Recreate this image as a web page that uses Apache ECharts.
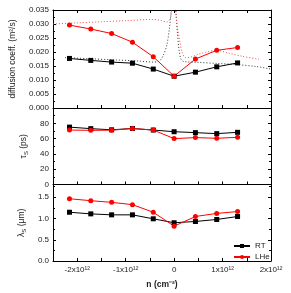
<!DOCTYPE html>
<html><head><meta charset="utf-8">
<script src="https://cdn.jsdelivr.net/npm/echarts@6/dist/echarts.min.js"></script>
<style>html,body{margin:0;padding:0;background:#fff}#c{width:291px;height:293px}</style>
</head><body><div id="c"></div>
<script>
// carrier density (units of 1e12 cm^-2)
const nPts = [-2.16, -1.72, -1.29, -0.86, -0.43, 0, 0.44, 0.88, 1.31];
// diffusion coefficient (m^2/s)
const dRT  = [0.0177, 0.0170, 0.0164, 0.0160, 0.0139, 0.01135, 0.0128, 0.0147, 0.0161];
const dLHe = [0.0296, 0.0282, 0.0266, 0.0235, 0.0183, 0.01135, 0.0175, 0.0206, 0.0216];
// spin lifetime (ps)
const tRT  = [75, 73, 71.5, 73.2, 71.2, 69, 67.8, 66.5, 68.2];
const tLHe = [71.2, 70.8, 71, 73.2, 71.2, 60, 61.3, 60.4, 61.7];
// spin diffusion length (um)
const lRT  = [1.147, 1.109, 1.086, 1.086, 0.993, 0.90, 0.93, 0.977, 1.047];
const lLHe = [1.465, 1.419, 1.38, 1.326, 1.147, 0.82, 1.047, 1.12, 1.163];
// dotted theory curves (n in 1e12 cm^-2, D in m^2/s)
const thRTn  = [-2.25, -1.75, -1.25, -0.75, -0.43, -0.3, -0.22, -0.15, -0.1, -0.06, -0.04, null, 0.02, 0.04, 0.07, 0.1, 0.14, 0.2, 0.5, 0.9, 1.3, 1.7, 2.0];
const thRTd  = [0.0180, 0.0176, 0.0172, 0.0168, 0.0164, 0.0168, 0.0190, 0.0225, 0.0280, 0.0345, 0.040, null, 0.040, 0.034, 0.0265, 0.021, 0.0175, 0.0166, 0.0163, 0.0159, 0.0155, 0.0148, 0.0139];
const thLHen = [-2.5, -2.0, -1.5, -1.0, -0.5, -0.3, -0.15, -0.08, -0.05, null, 0.02, 0.03, 0.06, 0.12, 0.165, 0.23, 0.35, 0.5, 0.7, 0.88, 1.1, 1.4, 1.75];
const thLHed = [0.0300, 0.0304, 0.0308, 0.0312, 0.0316, 0.0314, 0.0307, 0.0320, 0.036, null, 0.040, 0.035, 0.0296, 0.0236, 0.0200, 0.0180, 0.0182, 0.0192, 0.0201, 0.0206, 0.0197, 0.0185, 0.0174];

const E12 = 1e12;
const pairs = (xs, ys) => xs.map((x, i) => x === null ? [null, null] : [x * E12, ys[i]]);
const FONT = 'Liberation Sans, Arial, sans-serif';

const chart = echarts.init(document.getElementById('c'), null, {renderer: 'canvas'});

const axLine = {show: true, onZero: false, lineStyle: {color: '#000', width: 1}};
const tick = {show: true, inside: true, length: 3, lineStyle: {color: '#000'}};
const mtick = {show: true, splitNumber: 2, length: 2, lineStyle: {color: '#000'}};
const lbl = {fontFamily: FONT, fontSize: 8, color: '#222'};

function xAx(grid, opts) {
  return Object.assign({
    type: 'value', gridIndex: grid, min: -2.5 * E12, max: 2 * E12, interval: 0.5 * E12,
    axisLine: axLine, axisTick: tick, splitLine: {show: false},
    axisLabel: {show: false}
  }, opts);
}
function yAx(grid, min, max, interval, opts) {
  return Object.assign({
    type: 'value', gridIndex: grid, min: min, max: max, interval: interval,
    axisLine: axLine, axisTick: tick, minorTick: mtick, splitLine: {show: false}, minorSplitLine: {show: false},
    axisLabel: {show: false}
  }, opts);
}
const xFmt = v => {
  const k = Math.round(v / E12 * 2);
  if (k % 2 !== 0) return '';
  const m = k / 2;
  return m === 0 ? '0' : m + 'x10\u00b9\u00b2';
};

const nameStyle = {fontFamily: FONT, fontSize: 8.5, color: '#222'};

chart.setOption({
  animation: false,
  backgroundColor: '#fff',
  textStyle: {fontFamily: FONT},
  grid: [
    {left: 53, right: 20, top: 10, height: 98},
    {left: 53, right: 20, top: 108, height: 76.5},
    {left: 53, right: 20, top: 184.5, height: 76.5}
  ],
  xAxis: [
    xAx(0, {position: 'bottom'}),
    xAx(0, {position: 'top'}),
    xAx(1, {position: 'bottom'}),
    xAx(2, {position: 'bottom',
      axisLabel: Object.assign({show: true, interval: 0, margin: 5, formatter: xFmt, showMinLabel: false}, lbl),
      name: 'n (cm\u207b\u00b2)', nameLocation: 'middle', nameGap: 19,
      nameTextStyle: {fontFamily: FONT, fontSize: 8.5, fontWeight: 'bold', color: '#222'}})
  ],
  yAxis: [
    yAx(0, 0, 0.035, 0.005, {position: 'left',
      axisLabel: Object.assign({show: true, margin: 4, formatter: v => v.toFixed(3)}, lbl),
      name: 'diffusion coeff. (m\u00b2/s)', nameLocation: 'middle', nameGap: 36, nameTextStyle: nameStyle}),
    yAx(0, 0, 0.035, 0.005, {position: 'right'}),
    yAx(1, 0, 100, 20, {position: 'left',
      axisLabel: Object.assign({show: true, margin: 4, showMaxLabel: false}, lbl),
      name: '{a|\u03c4}{s|S}{a| (ps)}', nameLocation: 'middle', nameGap: 24,
      nameTextStyle: Object.assign({rich: {a: nameStyle, s: {fontFamily: FONT, fontSize: 6, color: '#222', padding: [4, 0, 0, 0]}}}, nameStyle)}),
    yAx(1, 0, 100, 20, {position: 'right'}),
    yAx(2, 0, 1.8, 0.5, {position: 'left',
      axisLabel: Object.assign({show: true, margin: 4, showMaxLabel: false, formatter: v => v.toFixed(1)}, lbl),
      name: '{a|\u03bb}{s|S}{a| (\u03bcm)}', nameLocation: 'middle', nameGap: 25,
      nameTextStyle: Object.assign({rich: {a: nameStyle, s: {fontFamily: FONT, fontSize: 6, color: '#222', padding: [4, 0, 0, 0]}}}, nameStyle)}),
    yAx(2, 0, 1.8, 0.5, {position: 'right'})
  ],
  legend: {
    data: ['RT', 'LHe'], orient: 'vertical', left: 228, top: 237,
    itemWidth: 16, itemHeight: 5, itemGap: 3,
    textStyle: {fontFamily: FONT, fontSize: 8, color: '#222'}
  },
  series: [
    {name: 'thRT', type: 'line', xAxisIndex: 0, yAxisIndex: 0, data: pairs(thRTn, thRTd), showSymbol: false, symbol: 'none', smooth: 0.3, connectNulls: false,
      lineStyle: {color: '#333', width: 1, type: [1, 2]}, silent: true, z: 1},
    {name: 'thLHe', type: 'line', xAxisIndex: 0, yAxisIndex: 0, data: pairs(thLHen, thLHed), showSymbol: false, symbol: 'none', smooth: 0.3, connectNulls: false,
      lineStyle: {color: '#f44', width: 1, type: [1, 2]}, silent: true, z: 1},
    {name: 'RT', type: 'line', xAxisIndex: 0, yAxisIndex: 0, data: pairs(nPts, dRT), symbol: 'rect', symbolSize: 5,
      itemStyle: {color: '#000'}, lineStyle: {color: '#000', width: 1}, z: 3},
    {name: 'LHe', type: 'line', xAxisIndex: 0, yAxisIndex: 0, data: pairs(nPts, dLHe), symbol: 'circle', symbolSize: 5,
      itemStyle: {color: '#f00'}, lineStyle: {color: '#f00', width: 1}, z: 3},
    {name: 'RT', type: 'line', xAxisIndex: 2, yAxisIndex: 2, data: pairs(nPts, tRT), symbol: 'rect', symbolSize: 5,
      itemStyle: {color: '#000'}, lineStyle: {color: '#000', width: 1}, z: 3},
    {name: 'LHe', type: 'line', xAxisIndex: 2, yAxisIndex: 2, data: pairs(nPts, tLHe), symbol: 'circle', symbolSize: 5,
      itemStyle: {color: '#f00'}, lineStyle: {color: '#f00', width: 1}, z: 3},
    {name: 'RT', type: 'line', xAxisIndex: 3, yAxisIndex: 4, data: pairs(nPts, lRT), symbol: 'rect', symbolSize: 5,
      itemStyle: {color: '#000'}, lineStyle: {color: '#000', width: 1}, z: 3},
    {name: 'LHe', type: 'line', xAxisIndex: 3, yAxisIndex: 4, data: pairs(nPts, lLHe), symbol: 'circle', symbolSize: 5,
      itemStyle: {color: '#f00'}, lineStyle: {color: '#f00', width: 1}, z: 3}
  ]
});
</script>
</body></html>
